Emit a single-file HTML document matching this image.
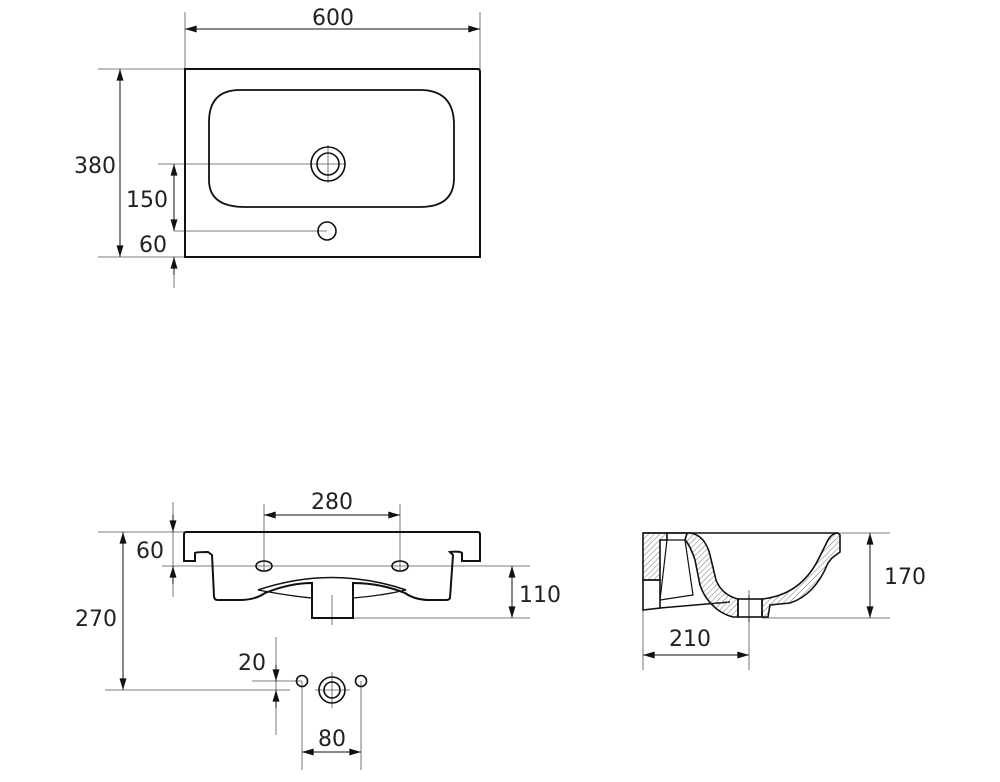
<!DOCTYPE html>
<html><head><meta charset="utf-8"><style>html,body{margin:0;padding:0;background:#fff}svg{display:block}text{font-family:"DejaVu Sans","Liberation Sans",sans-serif;font-size:22px;fill:#222;text-anchor:middle}</style></head><body>
<svg width="1000" height="782" viewBox="0 0 1000 782" xmlns="http://www.w3.org/2000/svg">
<defs>
<marker id="a" viewBox="0 0 10 6" refX="10" refY="3" markerWidth="12" markerHeight="7" markerUnits="userSpaceOnUse" orient="auto-start-reverse"><path d="M0,0L10,3L0,6z" fill="#111"/></marker>
<pattern id="h" width="4" height="4" patternUnits="userSpaceOnUse" patternTransform="rotate(45)"><line x1="0" y1="0" x2="0" y2="4" stroke="#777" stroke-width="1"/></pattern>
</defs>
<g stroke="#555" stroke-width="0.8" fill="none">
<line x1="185" y1="12" x2="185" y2="69"/><line x1="480" y1="12" x2="480" y2="69"/>
<line x1="98" y1="69" x2="185" y2="69"/><line x1="98" y1="257" x2="185" y2="257"/>
<line x1="158" y1="164" x2="345" y2="164"/><line x1="174" y1="231" x2="327" y2="231"/>
<line x1="328" y1="145" x2="328" y2="183"/>
<line x1="174" y1="257" x2="174" y2="288"/>
<line x1="264" y1="504" x2="264" y2="572"/><line x1="400" y1="504" x2="400" y2="572"/>
<line x1="98" y1="532" x2="184" y2="532"/>
<line x1="162" y1="566" x2="530" y2="566"/>
<line x1="353" y1="618" x2="530" y2="618"/>
<line x1="332" y1="595" x2="332" y2="625"/>
<line x1="173" y1="502" x2="173" y2="597"/>
<line x1="105" y1="690" x2="290" y2="690"/>
<line x1="252" y1="681" x2="302" y2="681"/>
<line x1="276" y1="637" x2="276" y2="735"/>
<line x1="302" y1="681" x2="302" y2="770"/><line x1="361" y1="681" x2="361" y2="770"/>
<line x1="332" y1="672" x2="332" y2="708"/><line x1="315" y1="690" x2="350" y2="690"/>
<line x1="838" y1="533" x2="890" y2="533"/><line x1="762" y1="618" x2="890" y2="618"/>
<line x1="643" y1="533" x2="643" y2="670"/><line x1="749" y1="590" x2="749" y2="670"/>
</g>
<g stroke="#111" stroke-width="1" fill="none">
<line x1="185" y1="29" x2="480" y2="29" marker-start="url(#a)" marker-end="url(#a)"/>
<line x1="120" y1="69" x2="120" y2="257" marker-start="url(#a)" marker-end="url(#a)"/>
<line x1="174" y1="164" x2="174" y2="231" marker-start="url(#a)" marker-end="url(#a)"/>
<line x1="174" y1="275" x2="174" y2="257" marker-end="url(#a)"/>
<line x1="264" y1="515" x2="400" y2="515" marker-start="url(#a)" marker-end="url(#a)"/>
<line x1="173" y1="515" x2="173" y2="532" marker-end="url(#a)"/>
<line x1="173" y1="584" x2="173" y2="566" marker-end="url(#a)"/>
<line x1="512" y1="566" x2="512" y2="618" marker-start="url(#a)" marker-end="url(#a)"/>
<line x1="123" y1="532" x2="123" y2="690" marker-start="url(#a)" marker-end="url(#a)"/>
<line x1="276" y1="665" x2="276" y2="681" marker-end="url(#a)"/>
<line x1="276" y1="708" x2="276" y2="690" marker-end="url(#a)"/>
<line x1="302" y1="752" x2="361" y2="752" marker-start="url(#a)" marker-end="url(#a)"/>
<line x1="870" y1="533" x2="870" y2="618" marker-start="url(#a)" marker-end="url(#a)"/>
<line x1="643" y1="655" x2="749" y2="655" marker-start="url(#a)" marker-end="url(#a)"/>
</g>
<g stroke="#111" stroke-width="2" fill="none">
<path d="M185,69 L478,69 Q480,69 480,72 L480,257 L185,257 Z"/>
<path d="M240,90 L420,90 Q454,90 454,125 L454,178 Q454,207 420,207 L245,207 Q209,207 209,180 L209,122 Q209,90 240,90 Z" stroke-width="1.8"/>
<circle cx="328" cy="164" r="17" stroke-width="1.6"/><circle cx="328" cy="164" r="11" stroke-width="1.6"/>
<circle cx="327" cy="231" r="9" stroke-width="1.6"/>
<path d="M186,532 L478,532 Q480,532 480,535 L480,561 L462,561 L462,553 Q460,551 450,552 L453,555 L450,598 Q449,600 446,600 L430,600 Q415,600 405,593 Q380,583 353,583 L353,618 L312,618 L312,583 Q290,583 265,593 Q255,600 240,600 L218,600 Q214,600 214,596 L212,555 L208,552 Q196,552 195,553 L195,561 L184,561 L184,535 Q184,532 186,532 Z"/>
<path d="M258,590 Q332,565 406,590" stroke-width="1.6"/>
<path d="M258,590 Q290,596 312,598 M353,598 Q380,596 406,590" stroke-width="1.3"/>
<ellipse cx="264" cy="566" rx="8" ry="5" stroke-width="1.6"/>
<ellipse cx="400" cy="566" rx="8" ry="5" stroke-width="1.6"/>
<circle cx="302" cy="681" r="5.5" stroke-width="1.6"/><circle cx="361" cy="681" r="5.5" stroke-width="1.6"/>
<circle cx="332" cy="690" r="13" stroke-width="1.6"/><circle cx="332" cy="690" r="8" stroke-width="1.6"/>
</g>
<g stroke="#111" stroke-width="1.6">
<line x1="643" y1="533" x2="838" y2="533" fill="none"/>
<path d="M643,533 L667,533 L667,540 L660,540 L660,580 L643,580 Z" fill="url(#h)"/>
<path d="M643,580 L660,580 L660,608 L643,610 Z" fill="none"/>
<path d="M660,608 L730,602" fill="none"/>
<path d="M687,533 L690,533 Q705,535 710,555 L716,580 Q722,595 738,599 L738,617 L733,617 Q725,615 718,610 Q705,600 700,585 L695,560 Q690,545 685,540 Z" fill="url(#h)"/>
<path d="M667,540 L685,540 L693,595 L660,600 Z" fill="none" stroke-width="1.2"/>
<rect x="738" y="599" width="24" height="18" fill="none"/>
<path d="M762,599 Q800,595 818,560 L828,540 Q832,533 838,533 L840,535 L840,552 L832,558 L828,563 Q815,595 790,603 L770,605 L768,617 L762,617 Z" fill="url(#h)"/>
<line x1="667" y1="533" x2="687" y2="533"/>
<line x1="749" y1="595" x2="749" y2="622" stroke-width="0.8"/>
</g>
<text x="333" y="25">600</text>
<text x="95" y="173">380</text>
<text x="147" y="207">150</text>
<text x="153" y="252">60</text>
<text x="332" y="509">280</text>
<text x="150" y="558">60</text>
<text x="540" y="602">110</text>
<text x="96" y="626">270</text>
<text x="252" y="670">20</text>
<text x="332" y="746">80</text>
<text x="905" y="584">170</text>
<text x="690" y="646">210</text>
</svg>
</body></html>
